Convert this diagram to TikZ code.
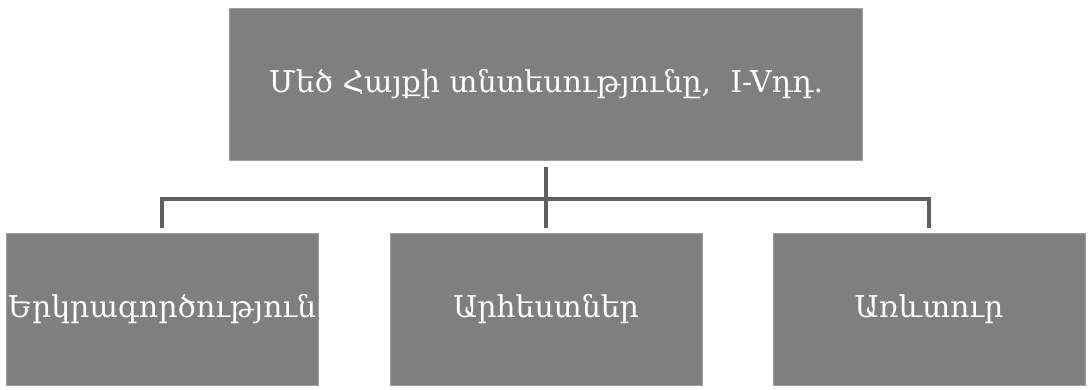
\documentclass[tikz,border=0pt]{standalone}
\usepackage{fontspec}
\setmainfont{DejaVu Serif}
\definecolor{boxgray}{HTML}{7F7F7F}
\definecolor{linegray}{HTML}{5F5F5F}
\definecolor{edgegray}{HTML}{A0A0A0}
\begin{document}
\begin{tikzpicture}[x=1pt,y=-1pt,
  box/.style={fill=boxgray,draw=edgegray,line width=0.8pt,text=white,inner sep=0pt,font=\fontsize{30}{34}\selectfont},
  conn/.style={draw=linegray,line width=4pt}]
\useasboundingbox (0,0) rectangle (1088,389);
\node[box,minimum width=633pt,minimum height=152pt] (top) at (546,84) {Մեծ Հայքի տնտեսությունը,\ \ I-Vդդ.};
\node[box,minimum width=312pt,minimum height=152pt] (a) at (162,309) {Երկրագործություն};
\node[box,minimum width=312pt,minimum height=152pt] (b) at (546,309) {Արհեստներ};
\node[box,minimum width=312pt,minimum height=152pt] (c) at (929,309) {Առևտուր};
\coordinate (j) at (546,199);
\draw[conn] ([yshift=-7pt]top.south) -- ([yshift=5pt]b.north);
\draw[conn] ([yshift=5pt]a.north) |- (j) -| ([yshift=5pt]c.north);
\end{tikzpicture}
\end{document}
